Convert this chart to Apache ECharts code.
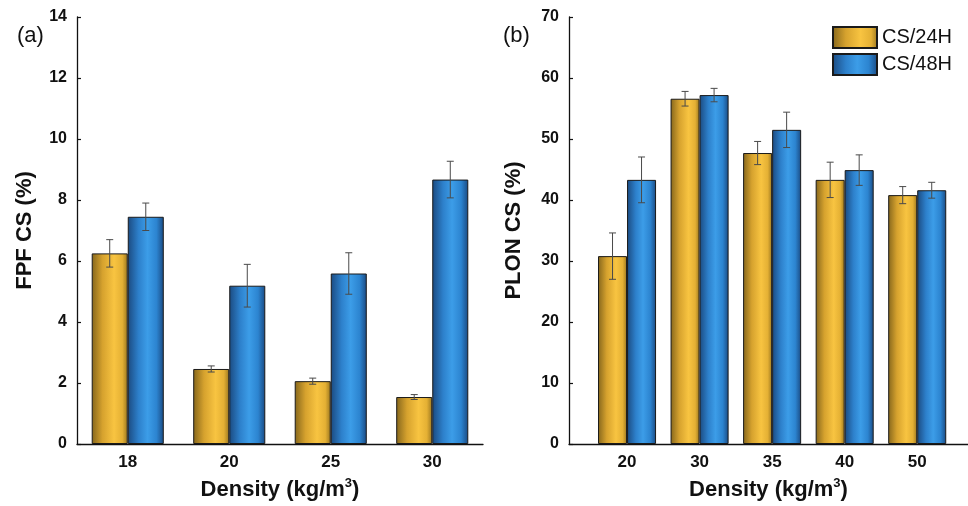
<!DOCTYPE html>
<html><head><meta charset="utf-8">
<script src="https://cdn.jsdelivr.net/npm/echarts@6/dist/echarts.min.js"></script>
<style>html,body{margin:0;padding:0;background:#fff}#c{width:968px;height:506px}</style>
</head><body><div id="c"></div>
<script>
const categoriesA = ['18', '20', '25', '30'];
const fpf24 = [6.25, 2.46, 2.06, 1.54];
const fpf24Err = [0.45, 0.1, 0.1, 0.08];
const fpf48 = [7.45, 5.19, 5.59, 8.67];
const fpf48Err = [0.45, 0.7, 0.68, 0.6];

const categoriesB = ['20', '30', '35', '40', '50'];
const plon24 = [30.8, 56.6, 47.7, 43.3, 40.8];
const plon24Err = [3.8, 1.2, 1.9, 2.9, 1.4];
const plon48 = [43.3, 57.2, 51.5, 44.9, 41.6];
const plon48Err = [3.75, 1.1, 2.9, 2.5, 1.3];

const seriesNames = ['CS/24H', 'CS/48H'];
const yRangeA = [0, 14, 2];
const yRangeB = [0, 70, 10];

const FONT = "'Liberation Sans', Arial, sans-serif";
const gold = {type:'linear',x:0,y:0,x2:1,y2:0,colorStops:[
  {offset:0,color:'#85661c'},{offset:0.3,color:'#d6a22e'},{offset:0.62,color:'#f8c441'},
  {offset:0.85,color:'#e4b034'},{offset:1,color:'#9a761f'}]};
const blue = {type:'linear',x:0,y:0,x2:1,y2:0,colorStops:[
  {offset:0,color:'#1b4a80'},{offset:0.3,color:'#2d80cb'},{offset:0.55,color:'#3c9de8'},
  {offset:0.8,color:'#2c84d0'},{offset:1,color:'#1a4a82'}]};

const fracA = 0.355, fracB = 0.4;

function pairs(vals) { return vals.map((v, i) => [i, v]); }
function triples(vals, errs) { return vals.map((v, i) => [i, v, errs[i]]); }

function errRender(side, frac) {
  return function (params, api) {
    const x = api.value(0), v = api.value(1), e = api.value(2);
    const band = api.size([1, 0])[0];
    const off = side * band * frac / 2;
    const top = api.coord([x, v + e]);
    const bot = api.coord([x, v - e]);
    const cx = top[0] + off;
    const cap = 3.5;
    const st = {stroke: '#4a4a4a', lineWidth: 1};
    return {type: 'group', children: [
      {type: 'line', shape: {x1: cx, y1: top[1], x2: cx, y2: bot[1]}, style: st},
      {type: 'line', shape: {x1: cx - cap, y1: top[1], x2: cx + cap, y2: top[1]}, style: st},
      {type: 'line', shape: {x1: cx - cap, y1: bot[1], x2: cx + cap, y2: bot[1]}, style: st}
    ]};
  };
}

function xAxisFor(gridIndex, cats, min, max) {
  return {
    type: 'value', gridIndex, min, max,
    name: '{a|Density (kg/m}{s|3}{a|)}', nameLocation: 'middle', nameGap: 33,
    nameTextStyle: {rich: {
      a: {fontFamily: FONT, fontWeight: 'bold', fontSize: 22, lineHeight: 26, color: '#111'},
      s: {fontFamily: FONT, fontWeight: 'bold', fontSize: 13, lineHeight: 13, verticalAlign: 'top', color: '#111'}
    }},
    axisLine: {show: true, onZero: true, lineStyle: {color: '#111', width: 1.3}},
    axisTick: {show: false},
    splitLine: {show: false},
    axisLabel: {
      customValues: cats.map((c, i) => i),
      formatter: v => cats[Math.round(v)] || '',
      fontFamily: FONT, fontWeight: 'bold', fontSize: 17, color: '#111', margin: 10
    }
  };
}
function yAxisFor(gridIndex, range, name, gap) {
  return {
    type: 'value', gridIndex, min: range[0], max: range[1], interval: range[2],
    name, nameLocation: 'middle', nameGap: gap,
    nameTextStyle: {fontFamily: FONT, fontWeight: 'bold', fontSize: 22, color: '#111'},
    axisLine: {show: true, onZero: false, lineStyle: {color: '#111', width: 1.3}},
    axisTick: {show: true, inside: true, length: 4, lineStyle: {color: '#111', width: 1.2}},
    splitLine: {show: false},
    axisLabel: {fontFamily: FONT, fontWeight: 'bold', fontSize: 16, color: '#111', margin: 10}
  };
}
function bar(name, idx, data, color, frac) {
  return {
    type: 'bar', name, xAxisIndex: idx, yAxisIndex: idx, data,
    barWidth: (frac * 100) + '%', barGap: '0%',
    itemStyle: {color, borderColor: '#1a1a1a', borderWidth: 1},
    emphasis: {disabled: true}, z: 2
  };
}
function err(idx, data, side, frac) {
  return {
    type: 'custom', xAxisIndex: idx, yAxisIndex: idx, data,
    encode: {x: 0, y: 1}, renderItem: errRender(side, frac), z: 5, silent: true
  };
}

const chart = echarts.init(document.getElementById('c'), null, {renderer: 'canvas'});
chart.setOption({
  animation: false,
  backgroundColor: '#fff',
  title: [
    {text: '(a)', left: 12, top: 20, textStyle: {fontFamily: FONT, fontWeight: 'normal', fontSize: 22, color: '#111'}},
    {text: '(b)', left: 498, top: 20, textStyle: {fontFamily: FONT, fontWeight: 'normal', fontSize: 22, color: '#111'}}
  ],
  legend: {
    data: seriesNames, orient: 'vertical', left: 827, top: 21, icon: 'rect',
    itemWidth: 44, itemHeight: 21, itemGap: 4,
    textStyle: {fontFamily: FONT, fontSize: 20, color: '#111'},
    selectedMode: false
  },
  grid: [
    {left: 77, right: 485, top: 17, bottom: 61},
    {left: 569, right: 0, top: 17, bottom: 61}
  ],
  xAxis: [xAxisFor(0, categoriesA, -0.5, 3.5), xAxisFor(1, categoriesB, -0.8, 4.7)],
  yAxis: [yAxisFor(0, yRangeA, 'FPF CS (%)', 41), yAxisFor(1, yRangeB, 'PLON CS (%)', 44)],
  series: [
    bar(seriesNames[0], 0, pairs(fpf24), gold, fracA),
    bar(seriesNames[1], 0, pairs(fpf48), blue, fracA),
    bar(seriesNames[0], 1, pairs(plon24), gold, fracB),
    bar(seriesNames[1], 1, pairs(plon48), blue, fracB),
    err(0, triples(fpf24, fpf24Err), -1, fracA),
    err(0, triples(fpf48, fpf48Err), 1, fracA),
    err(1, triples(plon24, plon24Err), -1, fracB),
    err(1, triples(plon48, plon48Err), 1, fracB)
  ]
});
</script></body></html>
